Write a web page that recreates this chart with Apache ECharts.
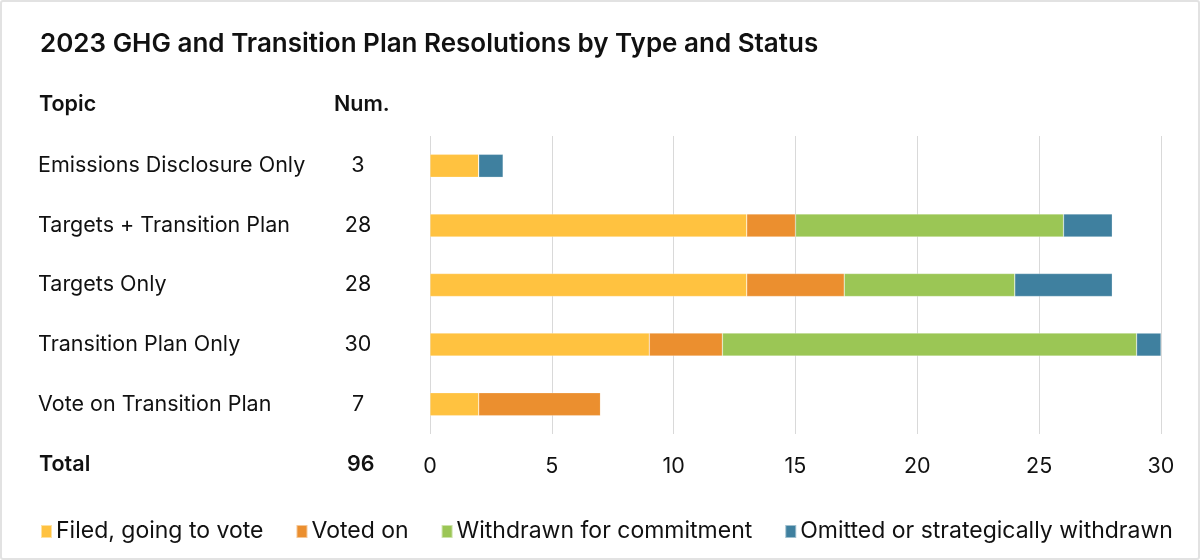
<!DOCTYPE html>
<html><head><meta charset="utf-8">
<script src="https://cdn.jsdelivr.net/npm/echarts@6/dist/echarts.min.js"></script>
<style>
html,body{margin:0;padding:0;background:#fff;}
#wrap{position:absolute;left:0;top:0;width:1196px;height:556px;border:2px solid #e2e2e2;border-radius:3px;}
#chart{width:1196px;height:556px;}
</style></head>
<body><div id="wrap"><div id="chart"></div></div>
<script>
const categories = ["Emissions Disclosure Only","Targets + Transition Plan","Targets Only","Transition Plan Only","Vote on Transition Plan"];
const filed = [2,13,13,9,2];
const voted = [0,2,4,3,5];
const withdrawn = [0,11,7,17,0];
const omitted = [1,2,4,1,0];
const seriesNames = ["Filed, going to vote","Voted on","Withdrawn for commitment","Omitted or strategically withdrawn"];
const colors = ["#FFC240","#EB8F2F","#9BC655","#3F809F"];
const xTicks = [0,5,10,15,20,25,30];

const totals = categories.map((c,i)=>filed[i]+voted[i]+withdrawn[i]+omitted[i]);
const grand = totals.reduce((a,b)=>a+b,0);
const FONT = "Inter, 'Noto Sans', sans-serif";
const FS = 21.5;
const chart = echarts.init(document.getElementById('chart'));
const vals = [filed,voted,withdrawn,omitted];
chart.setOption({
  animation:false,
  textStyle:{fontFamily:FONT},
  title:{text:"2023 GHG and Transition Plan Resolutions by Type and Status",left:33,top:24,
    textStyle:{fontFamily:FONT,fontSize:26,fontWeight:600,color:'#111'}},
  grid:{left:428,right:37,top:134,bottom:124},
  legend:{left:33,top:513,itemWidth:11,itemHeight:13,itemGap:32,icon:'rect',
    textStyle:{fontFamily:FONT,fontSize:23,color:'#111',padding:[0,0,0,-1]},
    data:seriesNames},
  xAxis:{type:'value',min:xTicks[0],max:xTicks[xTicks.length-1],interval:xTicks[1]-xTicks[0],
    axisLine:{show:false},axisTick:{show:false},
    splitLine:{lineStyle:{color:'#d9d9d9',width:1}},
    axisLabel:{fontFamily:FONT,fontSize:FS,color:'#111',margin:22}},
  yAxis:{type:'category',inverse:true,data:categories,
    axisLine:{show:false},axisTick:{show:false},
    axisLabel:{align:'left',margin:392,
      formatter:(v,i)=>`{a|${v}}{b|${totals[i]}}`,
      rich:{a:{fontFamily:FONT,fontSize:FS,color:'#111',width:290},
            b:{fontFamily:FONT,fontSize:FS,color:'#111',width:60,align:'center'}}}},
  graphic:[
    {type:'text',left:37,top:92,style:{text:'Topic',font:`600 ${FS}px ${FONT}`,fill:'#111'}},
    {type:'text',left:332,top:92,style:{text:'Num.',font:`600 ${FS}px ${FONT}`,fill:'#111'}},
    {type:'text',left:37,top:452,style:{text:'Total',font:`600 ${FS}px ${FONT}`,fill:'#111'}},
    {type:'text',left:345,top:452,style:{text:String(grand),font:`600 ${FS}px ${FONT}`,fill:'#111'}}
  ],
  series:seriesNames.map((n,k)=>({name:n,type:'bar',stack:'s',barWidth:23,
    itemStyle:{color:colors[k],borderColor:'rgba(255,255,255,0.5)',borderWidth:0.5},
    data:vals[k]}))
});
</script></body></html>
